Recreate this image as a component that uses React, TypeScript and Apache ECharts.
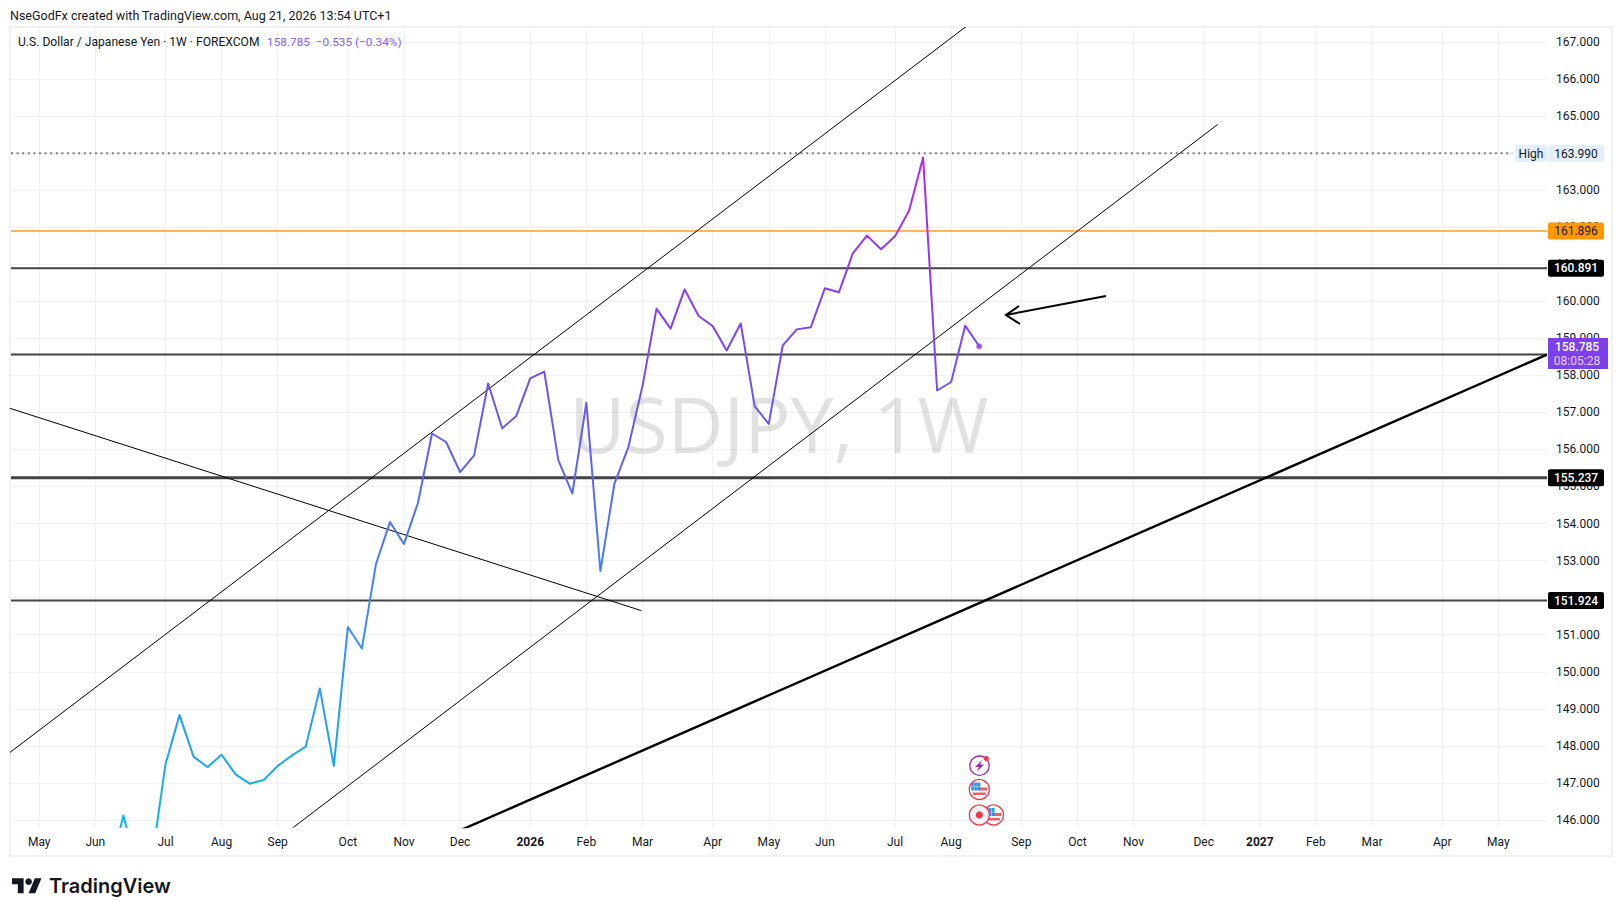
import React, { useEffect, useRef } from "react";
import * as echarts from "echarts";

const headerText = "NseGodFx created with TradingView.com, Aug 21, 2026 13:54 UTC+1";
const symbolText = "U.S. Dollar / Japanese Yen · 1W · FOREXCOM";
const quoteText = "158.785  −0.535 (−0.34%)";
const watermarkText = "USDJPY, 1W";

const firstWeek = 5;
const closes = [
  144.6, 146.12, 144.7, 144.83, 147.5, 148.83, 147.71, 147.43, 147.76, 147.23, 146.98, 147.08,
  147.46, 147.74, 147.98, 149.55, 147.46, 151.21, 150.63, 152.9, 154.04, 153.45, 154.56, 156.43,
  156.2, 155.39, 155.84, 157.78, 156.57, 156.9, 157.92, 158.1, 155.71, 154.81, 157.26, 152.72,
  155.08, 156.07, 157.71, 159.8, 159.26, 160.32, 159.6, 159.33, 158.67, 159.4, 157.16, 156.69,
  158.81, 159.24, 159.3, 160.35, 160.24, 161.3, 161.77, 161.4, 161.75, 162.44, 163.88, 157.59,
  157.82, 159.34, 158.785,
];

const monthWeeks = [0, 4, 9, 13, 17, 22, 26, 30, 35, 39, 43, 48, 52, 56, 61, 65, 70, 74, 78, 83, 87, 91, 95, 100, 104];
const monthLabels = ["May", "Jun", "Jul", "Aug", "Sep", "Oct", "Nov", "Dec", "2026", "Feb", "Mar", "Apr", "May", "Jun", "Jul", "Aug", "Sep", "Oct", "Nov", "Dec", "2027", "Feb", "Mar", "Apr", "May"];
const priceGrid = [146, 147, 148, 149, 150, 151, 152, 153, 154, 155, 156, 157, 158, 159, 160, 161, 162, 163, 164, 165, 166, 167];
const priceLabels = [146, 147, 148, 149, 150, 151, 152, 153, 154, 155, 156, 157, 158, 159, 160, 161, 162, 163, 165, 166, 167];

const xMin = -2.01;
const xMax = 107.47;
const yMin = 145.811;
const yMax = 167.386;

const highValue = 163.99;
const lastLabel = "158.785";
const countdown = "08:05:28";
const orangeLevel = 161.896;
const blackLevels = [160.891, 155.237, 151.924];
const blackLevelWidths = [2, 3, 2];
const unlabelledLevel = 158.56;
const highLineEnd = 105;

const upperChannel = [[-3, 147.56], [67, 167.68]];
const lowerChannel = [[17, 145.48], [84, 164.77]];
const fallingLine = [[-3, 157.22], [42.92, 151.65]];
const supportLine = [[30, 145.72], [107.47, 158.56]];

const FONT = "Roboto, 'Liberation Sans', sans-serif";
const GRID_LEFT = 11;
const GRID_RIGHT = 1547;
const GRID_TOP = 27.5;
const GRID_BOTTOM = 827;
const GRID_COLOR = "#f0f1f4";

const yPx = (v: number) => 41.8 + (167 - v) * 37.06;

echarts.graphic.registerShape(
  "tvMark",
  echarts.graphic.extendPath("M14 22H7V11H0V4h14v18zM28 22h-8l7.5-18h8L28 22z", {}) as any
);

function thinLine(data: number[][], width: number, color = "#000000", extra: object = {}) {
  return {
    type: "line",
    data,
    symbol: "none",
    silent: true,
    z: 3,
    lineStyle: { width, color, ...extra },
  };
}

function badge(text: string, top: number, fill: string, color: string, bold = false) {
  return [
    { type: "rect", z: 100, shape: { x: 1548, y: top, width: 56, height: 17, r: 2 }, style: { fill } },
    {
      type: "text", z: 101, x: 1576, y: top + 8.5,
      style: { text, fill: color, font: `${bold ? 500 : 400} 12px ${FONT}`, align: "center", verticalAlign: "middle" },
    },
  ];
}

function usFlag(cx: number, cy: number) {
  const r = 9;
  return [
    { type: "circle", z: 50, shape: { cx, cy, r: r + 1 }, style: { fill: "#ffffff", stroke: "#f23645", lineWidth: 1.3 } },
    { type: "rect", z: 51, shape: { x: cx - 1, y: cy - 2, width: 9, height: 3 }, style: { fill: "#ef5f5f" } },
    { type: "rect", z: 51, shape: { x: cx - 6.5, y: cy + 3, width: 13, height: 2.5 }, style: { fill: "#ef5f5f" } },
    { type: "rect", z: 51, shape: { x: cx - 8, y: cy - 7, width: 9, height: 8 }, style: { fill: "#2f8ef0" } },
    { type: "line", z: 52, shape: { x1: cx - 5, y1: cy - 7, x2: cx - 5, y2: cy + 1 }, style: { stroke: "#cfe3fb", lineWidth: 0.6 } },
    { type: "line", z: 52, shape: { x1: cx - 2, y1: cy - 7, x2: cx - 2, y2: cy + 1 }, style: { stroke: "#cfe3fb", lineWidth: 0.6 } },
    { type: "line", z: 52, shape: { x1: cx - 8, y1: cy - 3, x2: cx + 1, y2: cy - 3 }, style: { stroke: "#cfe3fb", lineWidth: 0.6 } },
  ];
}

export default function App() {
  const ref = useRef<HTMLDivElement>(null);

  useEffect(() => {
    if (!ref.current) return;
    const chart = echarts.init(ref.current, undefined, { renderer: "svg" });
    const lineData = closes.map((v, i) => [firstWeek + i, v]);
    const last = lineData[lineData.length - 1];

    const option = {
      animation: false,
      backgroundColor: "#ffffff",
      grid: { left: GRID_LEFT, top: GRID_TOP, width: GRID_RIGHT - GRID_LEFT, height: GRID_BOTTOM - GRID_TOP, containLabel: false },
      xAxis: {
        type: "value",
        min: xMin,
        max: xMax,
        axisLine: { show: false },
        axisTick: { show: false, customValues: monthWeeks },
        splitLine: { show: true, lineStyle: { color: GRID_COLOR, width: 1 } },
        axisLabel: {
          customValues: monthWeeks,
          margin: 8.5,
          color: "#131722",
          fontFamily: FONT,
          fontSize: 12,
          hideOverlap: false,
          formatter: (v: number) => {
            const s = monthLabels[monthWeeks.indexOf(v)] ?? "";
            return /^\d+$/.test(s) ? `{b|${s}}` : s;
          },
          rich: { b: { fontWeight: 700, fontFamily: FONT, fontSize: 12, color: "#131722" } },
        },
      },
      yAxis: {
        type: "value",
        position: "right",
        min: yMin,
        max: yMax,
        axisLine: { show: false },
        axisTick: { show: false, customValues: priceGrid },
        splitLine: { show: true, lineStyle: { color: GRID_COLOR, width: 1 } },
        axisLabel: {
          customValues: priceLabels,
          margin: 9,
          color: "#131722",
          fontFamily: FONT,
          fontSize: 12,
          hideOverlap: false,
          formatter: (v: number) => v.toFixed(3),
        },
      },
      series: [
        thinLine([[xMin, highValue], [highLineEnd, highValue]], 2, "#787b86", { type: [2, 3.6] }),
        thinLine([[xMin, orangeLevel], [xMax, orangeLevel]], 2, "#ffb84f"),
        ...blackLevels.map((v, i) => thinLine([[xMin, v], [xMax, v]], blackLevelWidths[i], "#434343")),
        thinLine([[xMin, unlabelledLevel], [xMax, unlabelledLevel]], 2, "#434343"),
        thinLine(upperChannel, 1),
        thinLine(lowerChannel, 1),
        thinLine(fallingLine, 1),
        thinLine(supportLine, 2.4),
        {
          type: "line",
          data: lineData,
          symbol: "none",
          z: 5,
          lineStyle: {
            width: 2,
            join: "round",
            color: {
              type: "linear", x: 0, y: 150, x2: 0, y2: 830, global: true,
              colorStops: [
                { offset: 0, color: "#b825f6" },
                { offset: 0.25, color: "#8340ef" },
                { offset: 0.45, color: "#5f62f0" },
                { offset: 0.7, color: "#3a8eef" },
                { offset: 1, color: "#08b6ee" },
              ],
            },
          },
        },
        {
          type: "scatter",
          data: [last],
          symbol: "circle",
          symbolSize: 6,
          z: 6,
          itemStyle: { color: "#8a38f0" },
        },
      ],
      graphic: [
        { type: "text", z: 60, x: 10, y: 15, style: { text: headerText, fill: "#131722", font: `400 12.5px ${FONT}`, verticalAlign: "middle" } },
        { type: "rect", z: 0, shape: { x: 10, y: 27, width: 1602, height: 829 }, style: { fill: "none", stroke: GRID_COLOR, lineWidth: 2 } },
        { type: "text", z: 60, x: 18, y: 42, style: { text: symbolText, fill: "#131722", font: `400 12.1px ${FONT}`, verticalAlign: "middle" } },
        { type: "text", z: 60, x: 267, y: 42, style: { text: quoteText, fill: "#8b5cf6", font: `400 11.8px ${FONT}`, verticalAlign: "middle" } },
        { type: "text", z: 1, x: 779, y: 423, style: { text: watermarkText, fill: "rgba(120,120,120,0.22)", font: `500 77px 'Open Sans', sans-serif`, align: "center", verticalAlign: "middle" } },

        // long arrow annotation
        { type: "line", z: 20, shape: { x1: 1006, y1: 315, x2: 1106, y2: 296 }, style: { stroke: "#000000", lineWidth: 2 } },
        { type: "polyline", z: 20, shape: { points: [[1019, 306], [1006, 315], [1020, 324]] }, style: { stroke: "#000000", lineWidth: 2, fill: "none" } },

        // High label
        { type: "rect", z: 100, shape: { x: 1515, y: 145, width: 32, height: 17, r: 2 }, style: { fill: "#e3effd" } },
        { type: "text", z: 101, x: 1531, y: 153.5, style: { text: "High", fill: "#131722", font: `400 12px ${FONT}`, align: "center", verticalAlign: "middle" } },
        ...badge(highValue.toFixed(3), 145, "#e3effd", "#131722"),
        ...badge(orangeLevel.toFixed(3), yPx(orangeLevel) - 8.5, "#ff9800", "#131722"),
        ...blackLevels.flatMap((v) => badge(v.toFixed(3), yPx(v) - 8.5, "#000000", "#ffffff", true)),

        // last price tag
        { type: "rect", z: 100, shape: { x: 1548, y: 338, width: 60, height: 31 }, style: { fill: "#7e3fed" } },
        { type: "text", z: 101, x: 1577, y: 346.5, style: { text: lastLabel, fill: "#ffffff", font: `500 12px ${FONT}`, align: "center", verticalAlign: "middle" } },
        { type: "text", z: 101, x: 1577, y: 360.5, style: { text: countdown, fill: "#e3d6fb", font: `400 12px ${FONT}`, align: "center", verticalAlign: "middle" } },

        // event icons
        { type: "circle", z: 50, shape: { cx: 979.5, cy: 765.7, r: 9.6 }, style: { fill: "#ffffff", stroke: "#9c27b0", lineWidth: 1.3 } },
        { type: "polygon", z: 51, shape: { points: [[982, 760], [975, 767], [979, 767], [976.5, 772], [984, 764.5], [980, 764.5]] }, style: { fill: "#9c27b0" } },
        { type: "circle", z: 52, shape: { cx: 986.3, cy: 758.5, r: 2.6 }, style: { fill: "#f23645" } },
        ...usFlag(979.3, 789.5),
        ...usFlag(993.5, 815),
        { type: "circle", z: 55, shape: { cx: 979.3, cy: 815, r: 10 }, style: { fill: "#f0f3fa", stroke: "#f23645", lineWidth: 1.3 } },
        { type: "circle", z: 56, shape: { cx: 979.3, cy: 815, r: 3.6 }, style: { fill: "#f23645" } },

        // TradingView footer
        { type: "tvMark", z: 60, x: 12, y: 875, scaleX: 0.83, scaleY: 0.83, style: { fill: "#131722" } },
        { type: "circle", z: 60, shape: { cx: 12 + 20 * 0.83, cy: 875 + 8 * 0.83, r: 4 * 0.83 }, style: { fill: "#131722" } },
        { type: "text", z: 60, x: 49, y: 886, style: { text: "TradingView", fill: "#131722", font: `600 20px Inter, sans-serif`, verticalAlign: "middle" } },
      ],
    };
    chart.setOption(option as any);
    return () => chart.dispose();
  }, []);

  return <div ref={ref} style={{ position: "fixed", left: 0, top: 0, width: 1623, height: 916 }} />;
}
